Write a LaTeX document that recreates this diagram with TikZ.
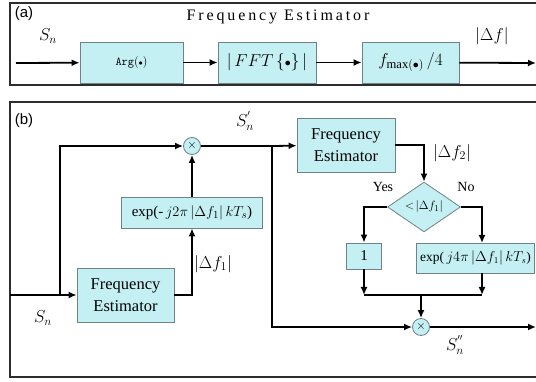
\documentclass[tikz,border=0pt]{standalone}
\usepackage{amsmath,amssymb}
\usepackage{fontspec}
\setmainfont{Liberation Serif}
\setsansfont{Liberation Sans}
\usepackage{xcolor}
\usepackage{tikz}
\usetikzlibrary{arrows.meta,positioning,shapes.geometric,calc}

\definecolor{boxfill}{RGB}{196,240,244}
\definecolor{boxline}{RGB}{110,130,135}
\definecolor{framecol}{RGB}{45,45,45}

\begin{document}
\begin{tikzpicture}[x=1pt, y=-1pt,
  blk/.style={draw=boxline, fill=boxfill, line width=0.8pt, inner sep=2pt, align=center, font=\fontsize{15}{21}\selectfont},
  mul/.style={circle, draw=boxline, fill=boxfill, line width=0.8pt, minimum size=17pt, inner sep=0pt, font=\large},
  decide/.style={diamond, draw=boxline, fill=boxfill, line width=0.8pt, inner sep=0pt, minimum width=73pt, minimum height=42pt, font=\fontsize{13}{15}\selectfont},
  sig/.style={line width=1.8pt, -{Latex[length=8pt,width=7pt]}},
  wire/.style={line width=1.8pt},
  lbl/.style={font=\fontsize{18}{20}\selectfont}
]
  \clip (0,0) rectangle (536,382);

  % Panel (a)
  \draw[framecol, line width=1.8pt] (10,3) rectangle (560,85);
  \node[font=\sffamily\fontsize{15}{17}\selectfont] (taga) at (24,14) {(a)};
  \node[font=\fontsize{16}{18}\selectfont\addfontfeatures{LetterSpace=18}] (title) at (278,17) {Frequency Estimator};

  \node[blk, minimum width=103pt, minimum height=41pt, font=\ttfamily\fontsize{12}{14}\selectfont] (arg) at (131.5,62.5) {Arg$(\scriptstyle\bullet\displaystyle)$};
  \node[blk, minimum width=98pt, minimum height=41pt, font=\fontsize{17}{19}\selectfont] (fft) at (267,62.5) {$|\,FFT\,\{{\scriptstyle\bullet}\}\,|$};
  \node[blk, minimum width=97pt, minimum height=41pt, font=\fontsize{18}{20}\selectfont] (fmx) at (410.5,62.5) {$f_{\max(\bullet)}\,/4$};

  \coordinate (ina) at (16,63);
  \coordinate (outa) at (536,63);
  \draw[sig] (ina) -- (arg);
  \draw[sig] (arg) -- (fft);
  \draw[sig] (fft) -- (fmx);
  \draw[sig] (fmx) -- (outa);
  \node[lbl] (sna) at (48,36) {$S_n$};
  \node[lbl] (dfa) at (492,36) {$\left|\Delta f\right|$};

  % Panel (b)
  \draw[framecol, line width=1.8pt] (10,102) rectangle (560,377);
  \node[font=\sffamily\fontsize{15}{17}\selectfont] (tagb) at (24,121) {(b)};

  \node[mul] (mula) at (192,146) {$\times$};
  \node[blk, minimum width=141pt, minimum height=31pt] (expa) at (192,212.5) {exp(-$\,j2\pi\left|\Delta f_1\right|kT_s$)};
  \node[blk, minimum width=97pt, minimum height=54pt, font=\fontsize{16.5}{22}\selectfont] (fea) at (125.5,295) {Frequency\\Estimator};
  \node[blk, minimum width=98pt, minimum height=54pt, font=\fontsize{16.5}{22}\selectfont] (feb) at (346,145) {Frequency\\Estimator};
  \node[decide] (cmp) at (424,207) {$<\!\left|\Delta f_1\right|$};
  \node[blk, minimum width=35pt, minimum height=26pt] (one) at (364,256) {1};
  \node[blk, minimum width=118pt, minimum height=30pt, inner sep=1pt, font=\fontsize{13.5}{16}\selectfont] (expb) at (475.5,258) {exp($\,j4\pi\left|\Delta f_1\right|kT_s$)};
  \node[mul] (mulb) at (421,327) {$\times$};

  \coordinate (inb) at (10,295);
  \coordinate (br) at (60,295);
  \coordinate (tl) at (60,146);
  \coordinate (split) at (272,146);
  \coordinate (nr) at (482,243);
  \coordinate (sr) at (482,273);
  \coordinate (jl) at (364,295);
  \coordinate (jr) at (482,295);
  \coordinate (jm) at (421,295);
  \coordinate (outb) at (536,327);

  % first stage
  \draw[sig] (inb) -- (fea);
  \draw[sig] (br) -- (tl) -- (mula);
  \draw[sig] (fea.east) -| (expa);
  \draw[sig] (expa) -- (mula);

  % second stage
  \draw[wire] (mula) -- (split);
  \draw[sig] (split) -- (feb);
  \draw[sig] (split) |- (mulb);
  \draw[sig] (feb.east) -| (cmp);
  \draw[sig] (cmp.west) -| (one);
  \draw[sig] (cmp.east) -| (nr);
  \draw[sig] (one) -- (jl);
  \draw[sig] (sr) -- (jr);
  \draw[wire] (jl) -- (jr);
  \draw[sig] (jm) -- (mulb);
  \draw[sig] (mulb) -- (outb);

  % labels
  \node[lbl] (snb) at (43,318) {$S_n$};
  \node[lbl] (snp) at (245,121) {$S^{'}_n$};
  \node[lbl] (snpp) at (455,345) {$S^{''}_n$};
  \node[lbl] (dfb) at (213,264) {$\left|\Delta f_1\right|$};
  \node[lbl] (dfc) at (452,153) {$\left|\Delta f_2\right|$};
  \node[font=\fontsize{14}{16}\selectfont] (yes) at (383,187) {Yes};
  \node[font=\fontsize{14}{16}\selectfont] (no) at (466,187) {No};
\end{tikzpicture}
\end{document}
